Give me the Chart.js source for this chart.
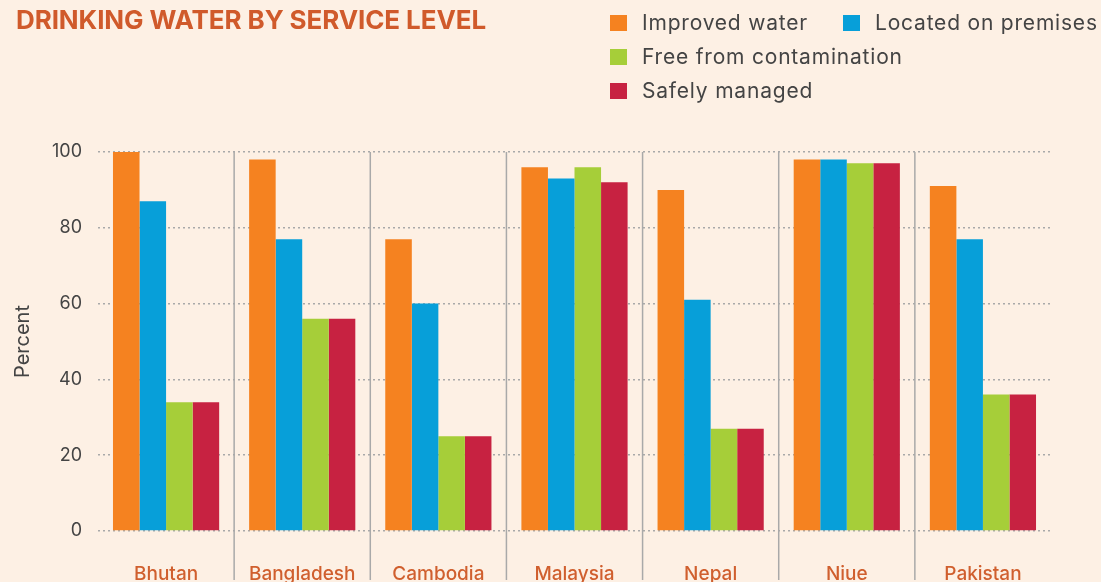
<!DOCTYPE html>
<html>
<head>
<meta charset="utf-8">
<script src="https://cdn.jsdelivr.net/npm/chart.js@4/dist/chart.umd.min.js"></script>
<style>
  html, body { margin: 0; padding: 0; background: #fdf0e4; }
  #wrap { position: relative; width: 1101px; height: 582px; overflow: hidden; }
  #chart { position: absolute; left: 0; top: 0; }
  #title {
    position: absolute; left: 16px; top: 4px;
    font: 700 26px Inter, sans-serif; color: #d05a2b; letter-spacing: -0.1px;
  }
  #legend { position: absolute; left: 610px; top: 10px; font: 21px Inter, sans-serif; color: #444; letter-spacing: 0.8px; }
  .item { position: absolute; white-space: nowrap; display: flex; align-items: center; }
  .item span.box { width: 17px; height: 16px; margin-right: 15px; display: inline-block; }
</style>
</head>
<body>
<div id="wrap">
  <canvas id="chart" width="1101" height="582"></canvas>
  <div id="title">DRINKING WATER BY SERVICE LEVEL</div>
  <div id="legend"></div>
</div>
<script>
const countries = ['Bhutan', 'Bangladesh', 'Cambodia', 'Malaysia', 'Nepal', 'Niue', 'Pakistan'];
const improvedWater = [100, 98, 77, 96, 90, 98, 91];
const onPremises = [87, 77, 60, 93, 61, 98, 77];
const freeFromContamination = [34, 56, 25, 96, 27, 97, 36];
const safelyManaged = [34, 56, 25, 92, 27, 97, 36];
const yTicks = [0, 20, 40, 60, 80, 100];

const series = [
    { label: 'Improved water', data: improvedWater, color: '#f58220' },
    { label: 'Located on premises', data: onPremises, color: '#079fd9' },
    { label: 'Free from contamination', data: freeFromContamination, color: '#a6ce39' },
    { label: 'Safely managed', data: safelyManaged, color: '#c72241' },
];

// legend laid out like the original: two on the first row, then one per row
const legendPos = [[0, 0], [233, 0], [0, 34], [0, 68]];
const legendEl = document.getElementById('legend');
series.forEach((s, i) => {
    const div = document.createElement('div');
    div.className = 'item';
    div.style.left = legendPos[i][0] + 'px';
    div.style.top = legendPos[i][1] + 'px';
    div.innerHTML = '<span class="box" style="background:' + s.color + '"></span>' + s.label;
    legendEl.appendChild(div);
});

// vertical separators between country groups
const separators = {
    id: 'separators',
    beforeDatasetsDraw(chart) {
        const x = chart.scales.x;
        const ctx = chart.ctx;
        ctx.save();
        ctx.strokeStyle = '#a9a9a9';
        ctx.lineWidth = 1.5;
        for (let i = 1; i < countries.length; i++) {
            const px = (x.getPixelForValue(i - 1) + x.getPixelForValue(i)) / 2;
            ctx.beginPath();
            ctx.moveTo(px, chart.chartArea.top);
            ctx.lineTo(px, chart.height - 2);
            ctx.stroke();
        }
        ctx.restore();
    },
};

new Chart(document.getElementById('chart'), {
    type: 'bar',
    data: {
        labels: countries,
        datasets: series.map((s) => ({
            label: s.label,
            data: s.data,
            backgroundColor: s.color,
            categoryPercentage: 0.78,
            barPercentage: 1.0,
        })),
    },
    options: {
        responsive: false,
        animation: false,
        layout: { padding: { top: 152, right: 50, left: 0, bottom: 0 } },
        plugins: { legend: { display: false }, tooltip: { enabled: false } },
        scales: {
            x: {
                grid: { display: false, drawTicks: false },
                border: { display: false },
                ticks: { color: '#d05f2e', font: { family: 'Inter', size: 19, weight: '500' }, padding: 32 },
                afterFit(scale) { scale.height = 51; },
            },
            y: {
                min: 0,
                max: 100,
                afterBuildTicks(scale) { scale.ticks = yTicks.map((v) => ({ value: v })); },
                grid: { color: '#a9a9a9', lineWidth: 1.5, drawTicks: false },
                border: { display: false, dash: [2, 3] },
                ticks: { color: '#444', font: { family: 'Inter', size: 18 }, padding: 16 },
                title: {
                    display: true, text: 'Percent', color: '#444',
                    font: { family: 'Inter', size: 20 }, padding: { top: 11, bottom: 0 },
                },
                afterFit(scale) { scale.width = 98; },
            },
        },
    },
    plugins: [separators],
});
</script>
</body>
</html>
